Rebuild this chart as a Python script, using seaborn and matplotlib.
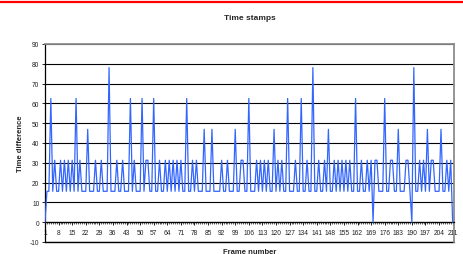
import matplotlib
matplotlib.use("Agg")
import matplotlib.pyplot as plt
from matplotlib.lines import Line2D
from matplotlib.ticker import MultipleLocator
import seaborn as sns
import pandas as pd

# ---- data ----
frames = list(range(1, 212))
time_diff = [
    0, 15.6, 15.6, 62.5, 15.6, 31.3, 15.6, 15.6, 31.3, 15.6,
    31.3, 15.6, 31.3, 15.6, 31.3, 15.6, 62.5, 15.6, 31.3, 15.6,
    15.6, 15.6, 46.9, 15.6, 15.6, 15.6, 31.3, 15.6, 15.6, 31.3,
    15.6, 15.6, 15.6, 78.1, 15.6, 15.6, 15.6, 31.3, 15.6, 15.6,
    31.3, 15.6, 15.6, 15.6, 62.5, 15.6, 31.3, 15.6, 15.6, 15.6,
    62.5, 15.6, 31.3, 31.3, 15.6, 15.6, 62.5, 15.6, 15.6, 31.3,
    15.6, 15.6, 31.3, 15.6, 31.3, 15.6, 31.3, 15.6, 31.3, 15.6,
    31.3, 15.6, 15.6, 62.5, 15.6, 15.6, 31.3, 15.6, 31.3, 15.6,
    15.6, 15.6, 46.9, 15.6, 15.6, 15.6, 46.9, 15.6, 15.6, 15.6,
    15.6, 31.3, 15.6, 15.6, 31.3, 15.6, 15.6, 15.6, 46.9, 15.6,
    15.6, 31.3, 31.3, 15.6, 15.6, 62.5, 15.6, 15.6, 15.6, 31.3,
    15.6, 31.3, 15.6, 31.3, 15.6, 31.3, 15.6, 15.6, 46.9, 15.6,
    31.3, 15.6, 31.3, 15.6, 15.6, 62.5, 15.6, 15.6, 15.6, 31.3,
    15.6, 15.6, 62.5, 15.6, 15.6, 31.3, 15.6, 15.6, 78.1, 15.6,
    15.6, 31.3, 15.6, 15.6, 31.3, 15.6, 46.9, 15.6, 15.6, 31.3,
    15.6, 31.3, 15.6, 31.3, 15.6, 31.3, 15.6, 31.3, 15.6, 15.6,
    62.5, 15.6, 15.6, 31.3, 15.6, 15.6, 31.3, 15.6, 31.3, 0,
    31.3, 31.3, 15.6, 15.6, 15.6, 62.5, 15.6, 15.6, 31.3, 31.3,
    15.6, 15.6, 46.9, 15.6, 15.6, 15.6, 31.3, 31.3, 15.6, 0,
    78.1, 15.6, 15.6, 31.3, 15.6, 31.3, 15.6, 46.9, 15.6, 31.3,
    31.3, 15.6, 15.6, 15.6, 46.9, 15.6, 15.6, 31.3, 15.6, 31.3,
    0,
]
x_tick_values = list(range(1, 212, 7))
x_tick_labels = [str(v) for v in x_tick_values]
y_tick_values = [-10, 0, 10, 20, 30, 40, 50, 60, 70, 80, 90]

title = "Time stamps"
x_label = "Frame number"
y_label = "Time difference"

df = pd.DataFrame({"frame": frames, "diff": time_diff})

sns.set_style("white")
plt.rcParams["font.family"] = ["Liberation Sans Narrow", "Liberation Sans", "DejaVu Sans"]
plt.rcParams["axes.unicode_minus"] = False

W, H = 464, 255
fig = plt.figure(figsize=(W / 100, H / 100), dpi=100)
left, right, top, bottom = 45, 454, 45, 243
ax = fig.add_axes([left / W, 1 - bottom / H, (right - left) / W, (bottom - top) / H])

sns.lineplot(data=df, x="frame", y="diff", ax=ax, color="#3366FF", lw=0.9, zorder=3)

ax.set_xlim(1, 211.7)
ax.set_ylim(-10, 90)
ax.set_yticks(y_tick_values)
ax.set_xticks(x_tick_values)
ax.set_xticklabels(x_tick_labels)
ax.xaxis.set_minor_locator(MultipleLocator(1))
ax.set_xlabel("")
ax.set_ylabel("")

ax.grid(axis="y", color="black", lw=0.8, zorder=1)
ax.grid(axis="x", visible=False)
ax.axhline(-10, color="black", lw=1.0, clip_on=False, zorder=1)

ax.spines["bottom"].set_position(("data", 0))
ax.spines["bottom"].set_color("black")
ax.spines["bottom"].set_linewidth(0.9)
ax.spines["left"].set_color("black")
ax.spines["left"].set_linewidth(0.9)
for s in ("top", "right"):
    ax.spines[s].set_color("#8c8c8c")
    ax.spines[s].set_linewidth(1.3)

ax.tick_params(axis="x", which="major", length=1.8, width=0.6, pad=3.2,
               labelsize=4.8, colors="black", bottom=True)
ax.tick_params(axis="x", which="minor", length=1.5, width=0.5, bottom=True)
ax.tick_params(axis="y", which="major", length=2.5, width=0.6, pad=1.5,
               labelsize=4.8, colors="black", left=True)
for lbl in ax.get_xticklabels() + ax.get_yticklabels():
    lbl.set_color("#222222")

fig.text((left + right) / 2 / W, 1 - 18 / H, title, ha="center", va="center",
         fontsize=6, fontweight="bold")
fig.text((left + right) / 2 / W, 1 - 253 / H, x_label, ha="center", va="center",
         fontsize=5.5, fontweight="bold")
fig.text(21 / W, 1 - 144 / H, y_label, ha="center", va="center", rotation=90,
         fontsize=5.5, fontweight="bold")

fig.add_artist(Line2D([0, 1], [1 - 2.5 / H, 1 - 2.5 / H], color="red", lw=1.6,
                      transform=fig.transFigure))

fig.savefig("out.png", dpi=100)
